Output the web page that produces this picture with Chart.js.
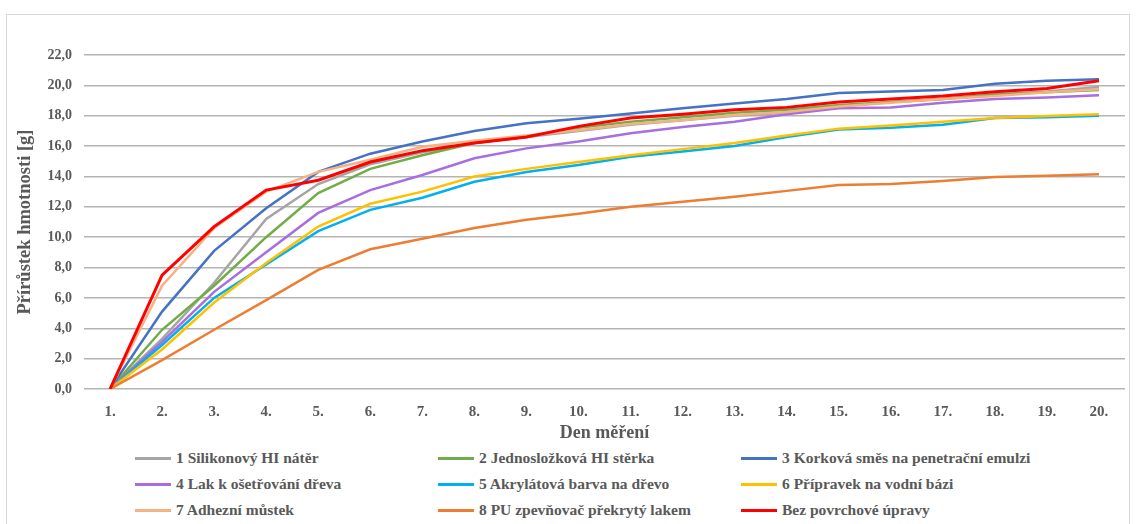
<!DOCTYPE html>
<html lang="cs">
<head>
  <meta charset="UTF-8" />
  <title>Přírůstek hmotnosti</title>
  <script src="https://cdn.jsdelivr.net/npm/chart.js@4.4.1/dist/chart.umd.min.js"></script>
  <style>
    body { margin: 0; background: #fff; width: 1136px; height: 524px; overflow: hidden; position: relative; }
    #frame { position: absolute; left: 6px; top: 14px; width: 1122px; height: 530px; border: 1px solid #d9d9d9; }
    #chart { position: absolute; left: 0; top: 0; }
    #legend { position: absolute; left: 0; top: 0; }
    .item { position: absolute; height: 18px; display: flex; align-items: center;
      font-family: "Liberation Serif", "Times New Roman", serif; font-weight: bold; font-size: 15.5px; color: #595959; white-space: nowrap; }
    .item span.mark { display: inline-block; width: 36px; height: 3px; margin-right: 5px; }
  </style>
</head>
<body>
  <div id="frame"></div>
  <canvas id="chart" width="1136" height="445"></canvas>
  <div id="legend"></div>

  <script>
    // den měření
    var dny = ["1.", "2.", "3.", "4.", "5.", "6.", "7.", "8.", "9.", "10.",
      "11.", "12.", "13.", "14.", "15.", "16.", "17.", "18.", "19.", "20."];

    var nazvy = [
      "1 Silikonový HI nátěr",
      "2 Jednosložková HI stěrka",
      "3 Korková směs na penetrační emulzi",
      "4 Lak k ošetřování dřeva",
      "5 Akrylátová barva na dřevo",
      "6 Přípravek na vodní bázi",
      "7 Adhezní můstek",
      "8 PU zpevňovač překrytý lakem",
      "Bez povrchové úpravy"
    ];

    var barvy = ["#a5a5a5", "#70ad47", "#4472c4", "#a86ee0", "#00b0f0", "#ffc000", "#f4b183", "#ed7d31", "#ff0000"];

    // přírůstek hmotnosti [g]
    var silikon = [0, 3.3, 7.0, 11.2, 13.5, 14.8, 15.6, 16.2, 16.6, 17.0, 17.4, 17.7, 18.0, 18.2, 18.6, 18.9, 19.1, 19.4, 19.6, 19.9];
    var sterka = [0, 3.9, 6.8, 10.0, 12.9, 14.5, 15.4, 16.2, 16.6, 17.2, 17.6, 17.9, 18.2, 18.4, 18.7, 18.9, 19.1, 19.4, 19.55, 19.7];
    var korek = [0, 5.1, 9.1, 11.9, 14.3, 15.5, 16.3, 17.0, 17.5, 17.8, 18.15, 18.5, 18.8, 19.1, 19.5, 19.6, 19.7, 20.1, 20.3, 20.4];
    var lak = [0, 3.1, 6.4, 9.0, 11.6, 13.1, 14.1, 15.2, 15.85, 16.3, 16.85, 17.25, 17.6, 18.1, 18.5, 18.55, 18.85, 19.1, 19.2, 19.35];
    var akryl = [0, 2.9, 6.0, 8.2, 10.4, 11.8, 12.6, 13.65, 14.3, 14.75, 15.3, 15.65, 16.0, 16.6, 17.1, 17.2, 17.4, 17.85, 17.9, 18.0];
    var vodni = [0, 2.6, 5.7, 8.3, 10.7, 12.2, 13.0, 14.0, 14.5, 14.95, 15.4, 15.8, 16.2, 16.7, 17.15, 17.35, 17.6, 17.85, 17.98, 18.1];
    var mustek = [0, 6.8, 10.6, 13.0, 14.3, 15.1, 15.95, 16.35, 16.7, 17.05, 17.45, 17.7, 18.05, 18.25, 18.6, 18.85, 19.1, 19.3, 19.55, 19.75];
    var pu = [0, 1.9, 3.9, 5.85, 7.85, 9.2, 9.9, 10.6, 11.15, 11.55, 12.0, 12.33, 12.66, 13.05, 13.43, 13.5, 13.7, 13.97, 14.05, 14.15];
    var bez = [0, 7.5, 10.7, 13.1, 13.75, 14.95, 15.7, 16.2, 16.6, 17.3, 17.85, 18.1, 18.4, 18.55, 18.9, 19.1, 19.3, 19.58, 19.8, 20.3];

    var rady = [silikon, sterka, korek, lak, akryl, vodni, mustek, pu, bez];

    var pismo = "'Liberation Serif', 'Times New Roman', serif";
    var seda = "#595959";

    var datasets = [];
    for (let i = 0; i < rady.length; i++) {
      datasets.push({
        label: nazvy[i],
        data: rady[i],
        borderColor: barvy[i],
        backgroundColor: barvy[i],
        borderWidth: i == 8 ? 3 : 2.5,
        pointRadius: 0,
        tension: 0,
        fill: false,
        order: rady.length - 1 - i
      });
    }

    var ctx = document.getElementById("chart").getContext("2d");
    var graf = new Chart(ctx, {
      type: "line",
      data: { labels: dny, datasets: datasets },
      options: {
        responsive: false,
        animation: false,
        layout: { padding: { left: 14, right: 11, top: 55, bottom: 0 } },
        plugins: { legend: { display: false }, tooltip: { enabled: false } },
        scales: {
          x: {
            offset: true,
            grid: { display: false },
            border: { display: false },
            ticks: { color: seda, padding: 6, font: { family: pismo, size: 15, weight: "bold" }, maxRotation: 0, autoSkip: false },
            title: { display: true, text: "Den měření", color: seda, padding: { top: 4, bottom: 1 }, font: { family: pismo, size: 18, weight: "bold" } },
            afterFit: function (s) { s.height = 56; }
          },
          y: {
            min: 0,
            max: 22,
            ticks: {
              stepSize: 2, color: seda, padding: 12,
              font: { family: pismo, size: 14, weight: "bold" },
              callback: function (v) { return v.toFixed(1).replace(".", ","); }
            },
            grid: { color: "#b4b4b4", lineWidth: 1.5, drawTicks: false },
            border: { display: false },
            title: { display: true, text: "Přírůstek hmotnosti [g]", color: seda, padding: 0, font: { family: pismo, size: 18.5, weight: "bold" } },
            afterFit: function (s) { s.width = 70; }
          }
        }
      }
    });

    // legenda ve třech sloupcích
    var leg = document.getElementById("legend");
    for (let i = 0; i < nazvy.length; i++) {
      var d = document.createElement("div");
      d.className = "item";
      d.style.left = (135 + (i % 3) * 303) + "px";
      d.style.top = (449 + Math.floor(i / 3) * 26) + "px";
      d.innerHTML = '<span class="mark" style="background:' + barvy[i] + '"></span>' + nazvy[i];
      leg.appendChild(d);
    }
  </script>
</body>
</html>
